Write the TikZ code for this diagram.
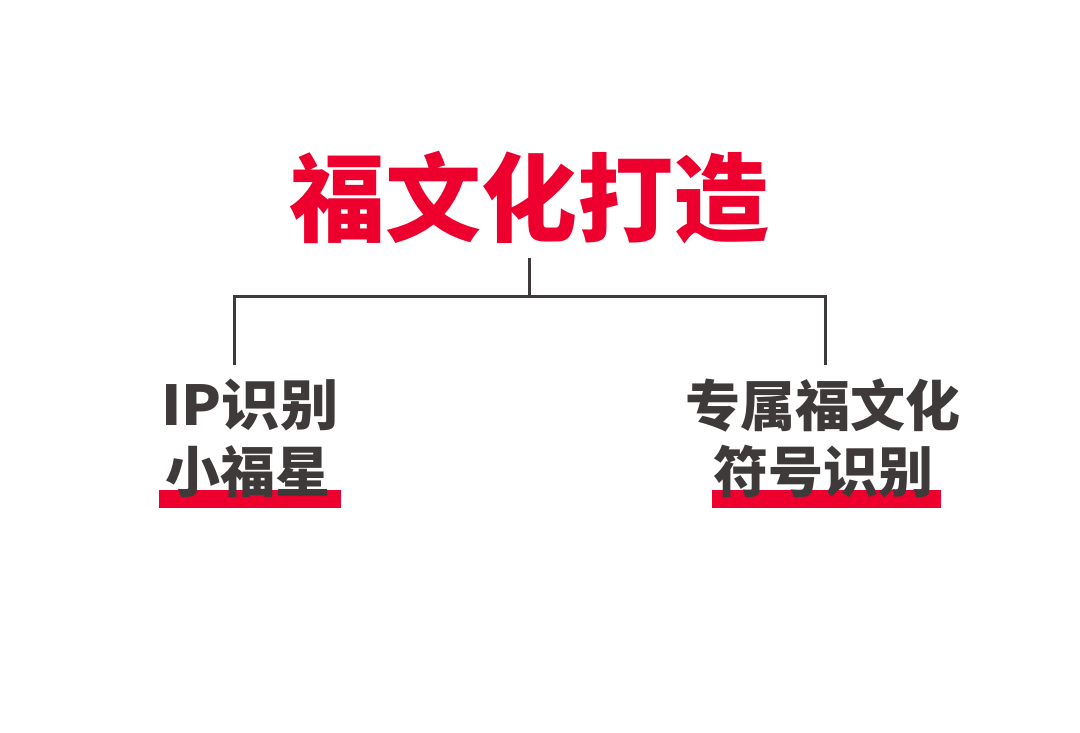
\documentclass[tikz,border=0pt]{standalone}
\usepackage{fontspec}
\newfontfamily\cjk{Noto Sans CJK SC Black}
\usetikzlibrary{positioning}
\definecolor{fured}{RGB}{237,0,46}
\definecolor{fugray}{RGB}{62,58,57}
\tikzset{
  titletext/.style={inner sep=0pt, text=fured, font=\cjk\fontsize{96}{96}\selectfont},
  subtext/.style={inner sep=0pt, text=fugray, font=\cjk\fontsize{55}{55}\selectfont},
  conn/.style={draw=fugray, line width=3pt},
  redbar/.style={fill=fured},
}
\begin{document}
\begin{tikzpicture}[x=1pt, y=-1pt, line join=miter]
    \useasboundingbox[fill=white] (0,0) rectangle (1080,733);
    % title
    \node[titletext] (title) at (529,198) {福文化打造};
    % connectors
    \coordinate (top) at (529,258);
    \coordinate (hub) at (529,296);
    \coordinate (lend) at (234,365);
    \coordinate (rend) at (825,365);
    \draw[conn] (top) -- (hub);
    \draw[conn] (hub) -| (lend);
    \draw[conn] (hub) -| (rend);
    % underline bars
    \fill[redbar] (159,490) rectangle (341,508);
    \fill[redbar] (712,490) rectangle (941,508);
    % left branch
    \node[subtext, xscale=1.06] (ip1) at (250,405) {IP识别};
    \node[subtext] (ip2) at (248,472) {小福星};
    % right branch
    \node[subtext] (fu1) at (823,405) {专属福文化};
    \node[subtext] (fu2) at (823,472) {符号识别};
\end{tikzpicture}
\end{document}
